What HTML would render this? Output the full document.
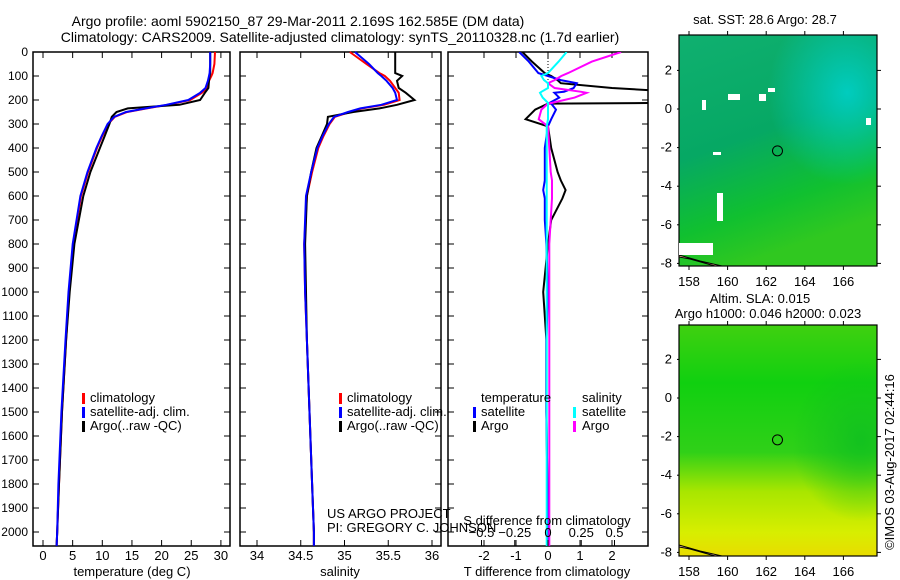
<!DOCTYPE html>
<html><head><meta charset="utf-8"><style>
html,body{margin:0;padding:0;background:#fff;}
svg{display:block;font-family:"Liberation Sans",sans-serif;}
text{font-size:13px;fill:#000;}
text.big{font-size:14px;}
text.dl{font-size:12px;}
</style></head><body>
<svg id="fig" width="900" height="580" viewBox="0 0 900 580" xmlns="http://www.w3.org/2000/svg">
<defs>
<linearGradient id="sstG" x1="0" y1="0" x2="0.3" y2="1">
<stop offset="0" stop-color="#10b070"/><stop offset="0.5" stop-color="#06a864"/><stop offset="0.8" stop-color="#10c030"/><stop offset="1" stop-color="#30c820"/></linearGradient>
<radialGradient id="sstC" cx="0.85" cy="0.25" r="0.4"><stop offset="0" stop-color="#00d0c8" stop-opacity="0.9"/><stop offset="1" stop-color="#00d0c8" stop-opacity="0"/></radialGradient>
<linearGradient id="slaG" x1="0" y1="0" x2="0" y2="1">
<stop offset="0" stop-color="#40d010"/><stop offset="0.25" stop-color="#10d010"/><stop offset="0.55" stop-color="#30d018"/><stop offset="0.72" stop-color="#a8e600"/><stop offset="0.9" stop-color="#d8ee00"/><stop offset="1" stop-color="#e8dc00"/></linearGradient>
<radialGradient id="slaR" cx="0.92" cy="0.5" r="0.35"><stop offset="0" stop-color="#10c020" stop-opacity="0.9"/><stop offset="1" stop-color="#10c020" stop-opacity="0"/></radialGradient>
<clipPath id="c3"><rect x="448" y="52" width="200" height="494"/></clipPath>
</defs>
<g id="g"></g>
</svg>
<script>
// depth levels (m)
const depths=[0,50,88,100,120,150,170,200,220,235,250,270,300,350,400,500,600,800,1000,1200,1500,1800,2000,2058];
const tClim=[29.0,28.9,28.6,28.4,28.0,27.7,26.8,24.8,21.0,17.5,14.2,12.1,11.0,10.0,9.1,7.6,6.4,5.1,4.4,3.9,3.2,2.7,2.4,2.3];
const tSat=[28.2,28.2,28.1,28.0,27.8,27.4,26.5,24.5,20.8,17.3,14.0,12.0,10.9,9.9,9.0,7.5,6.3,5.0,4.3,3.8,3.1,2.6,2.4,2.3];
const tArgo=[28.2,28.2,28.2,28.1,28.0,27.9,27.3,26.5,23.0,14.3,12.4,11.6,11.2,10.4,9.6,8.0,6.8,5.3,4.5,3.9,3.2,2.7,2.4,2.3];
const sClim=[35.06,35.25,35.40,35.46,35.52,35.58,35.62,35.63,35.45,35.2,35.06,34.89,34.83,34.76,34.70,34.63,34.57,34.54,34.55,34.57,34.60,34.63,34.65,34.65];
const sSat=[35.12,35.28,35.38,35.42,35.48,35.55,35.58,35.6,35.42,35.18,35.04,34.88,34.82,34.75,34.69,34.62,34.56,34.54,34.55,34.57,34.60,34.63,34.65,34.65];
const sArgo=[35.58,35.58,35.58,35.66,35.6,35.62,35.7,35.8,35.6,35.4,35.1,34.81,34.80,34.74,34.68,34.62,34.57,34.55,34.56,34.57,34.60,34.63,34.65,34.65];
// difference levels
const dDepths=[0,40,88,100,117,130,150,166,170,190,212,215,240,280,310,400,500,535,575,610,700,800,1000,1200,1500,2000,2058];
const dtSat=[-0.9,-0.6,-0.3,0.0,0.4,0.9,0.8,0.5,0.2,0.35,0.05,0.1,0.25,0.1,0.0,-0.1,-0.1,-0.1,-0.15,-0.1,-0.1,-0.05,0.0,-0.05,-0.05,0.0,0.0];
const dtArgo=[-0.8,-0.5,-0.1,0.1,0.3,0.4,2.0,4.0,4.0,4.0,4.0,0.0,-0.4,-0.7,0.0,0.1,0.3,0.4,0.55,0.45,0.1,0.0,-0.15,-0.05,-0.05,0.0,0.0];
const dsSat=[0.14,0.08,0.0,-0.05,-0.03,0.0,0.0,-0.05,-0.06,-0.04,0.0,0.0,0.0,0.0,-0.01,-0.01,-0.01,-0.01,-0.01,-0.01,-0.01,-0.01,-0.01,-0.01,-0.01,-0.01,-0.01];
const dsArgo=[0.55,0.33,0.15,0.1,0.05,0.0,0.05,0.25,0.29,0.2,0.03,0.0,-0.05,-0.07,0.0,0.01,0.02,0.03,0.03,0.03,0.02,0.01,0.01,0.01,0.01,0.01,0.01];
const depthTicks=[0,100,200,300,400,500,600,700,800,900,1000,1100,1200,1300,1400,1500,1600,1700,1800,1900,2000];
const tTicks=[0,5,10,15,20,25,30];
const sTicks=[34,34.5,35,35.5,36];
const dtTicks=[-2,-1,0,1,2];
const dsTicks=[-0.5,-0.25,0,0.25,0.5];
const lonTicks=[158,160,162,164,166];
const latTicks=[2,0,-2,-4,-6,-8];

const NS="http://www.w3.org/2000/svg";
const G=document.getElementById('g');
function mk(tag,attrs,parent){const e=document.createElementNS(NS,tag);for(const k in attrs)e.setAttribute(k,attrs[k]);(parent||G).appendChild(e);return e;}
function txt(x,y,s,anchor,parent){const t=mk('text',{x:x,y:y,'text-anchor':anchor||'start'},parent);t.textContent=s;return t;}
const yD=d=>52+0.24*d;
const xT=t=>43+5.93*t;
const xS=s=>257+87.5*(s-34);
const xDT=t=>548+32*t;
const xDS=s=>548+133*s;

function frame(x0,x1,name){const r=mk('rect',{x:x0,y:52,width:x1-x0,height:494,fill:'none',stroke:'#000','stroke-width':1.5});


depthTicks.forEach(d=>{mk('line',{x1:x0,x2:x0+6,y1:yD(d),y2:yD(d),stroke:'#000'});mk('line',{x1:x1-6,x2:x1,y1:yD(d),y2:yD(d),stroke:'#000'});});}
function line(xs,ds,xf,color,name,w,clip){const pts=xs.map((v,i)=>xf(v).toFixed(1)+','+yD(ds[i]).toFixed(1)).join(' ');
const p=mk('polyline',{points:pts,fill:'none',stroke:color,'stroke-width':w||2});
if(clip)p.setAttribute('clip-path','url(#c3)');

}

// titles
let t=txt(298,26,'Argo profile: aoml 5902150_87 29-Mar-2011 2.169S 162.585E (DM data)','middle');
t.setAttribute('class','big');


t=txt(340,42,'Climatology: CARS2009. Satellite-adjusted climatology: synTS_20110328.nc (1.7d earlier)','middle');
t.setAttribute('class','big');



// panel 1
frame(33,230,'temperature-panel');
depthTicks.forEach(d=>{const e=txt(28,yD(d)+4,String(d),'end');e.setAttribute('class','dl');});
tTicks.forEach(v=>{mk('line',{x1:xT(v),x2:xT(v),y1:52,y2:58,stroke:'#000'});mk('line',{x1:xT(v),x2:xT(v),y1:540,y2:546,stroke:'#000'});const e=txt(xT(v),560,String(v),'middle');});
line(tClim,depths,xT,'#ff0000','temperature-climatology-line');
line(tArgo,depths,xT,'#000','temperature-argo-line');
line(tSat,depths,xT,'#0000ff','temperature-satellite-line');
t=txt(132,576,'temperature (deg C)','middle');

// panel 2
frame(240,441,'salinity-panel');
sTicks.forEach(v=>{mk('line',{x1:xS(v),x2:xS(v),y1:52,y2:58,stroke:'#000'});mk('line',{x1:xS(v),x2:xS(v),y1:540,y2:546,stroke:'#000'});const e=txt(xS(v),560,String(v),'middle');});
line(sClim,depths,xS,'#ff0000','salinity-climatology-line');
line(sArgo,depths,xS,'#000','salinity-argo-line');
line(sSat,depths,xS,'#0000ff','salinity-satellite-line');
t=txt(340,576,'salinity','middle');

// legends panels 1,2
[[80,'legend-temperature'],[337,'legend-salinity']].forEach(([x,n])=>{
 const g=mk('g',{});
 [['#ff0000','climatology'],['#0000ff','satellite-adj. clim.'],['#000','Argo(..raw -QC)']].forEach((it,i)=>{
  mk('rect',{x:x+2,y:393+i*14,width:3,height:11,fill:it[0]},g);txt(x+10,402+i*14,it[1],'start',g);});});
t=txt(327,518,'US ARGO PROJECT');
t=txt(327,532,'PI: GREGORY C. JOHNSON');

// panel 3
frame(448,648,'difference-panel');
dtTicks.forEach(v=>{mk('line',{x1:xDT(v),x2:xDT(v),y1:52,y2:58,stroke:'#000'});mk('line',{x1:xDT(v),x2:xDT(v),y1:540,y2:546,stroke:'#000'});const e=txt(xDT(v),560,String(v),'middle');});
mk('line',{x1:548,x2:548,y1:52,y2:80,stroke:'#000','stroke-dasharray':'1,2'});
line(dtArgo,dDepths,xDT,'#000','t-diff-argo-line',2,true);
line(dtSat,dDepths,xDT,'#0000ff','t-diff-satellite-line',2,true);
line(dsArgo,dDepths,xDS,'#ff00ff','s-diff-argo-line',2,true);
line(dsSat,dDepths,xDS,'#00ffff','s-diff-satellite-line',2,true);
dsTicks.forEach(v=>{mk('line',{x1:xDS(v),x2:xDS(v),y1:540,y2:546,stroke:'#000'});const e=txt(xDS(v),537,String(v).replace('-','\u2212'),'middle');});
t=txt(547,525,'S difference from climatology','middle');
t=txt(547,576,'T difference from climatology','middle');
{const g=mk('g',{});
txt(481,402,'temperature','start',g);txt(582,402,'salinity','start',g);
[['#0000ff','satellite',473,481],['#000','Argo',473,481],['#00ffff','satellite',573,582],['#ff00ff','Argo',573,582]].forEach((it,i)=>{
 const row=i%2;mk('rect',{x:it[2],y:407+row*14,width:3,height:11,fill:it[0]},g);txt(it[3],416+row*14,it[1],'start',g);});}

// maps
const xLon=l=>689+19.3*(l-158);
function map(top,zeroY,fillA,fillB,name){
 const g=mk('g',{});
 mk('rect',{x:679,y:top,width:198,height:231,fill:fillA},g);
 mk('rect',{x:679,y:top,width:198,height:231,fill:fillB},g);
 lonTicks.forEach(l=>{mk('line',{x1:xLon(l),x2:xLon(l),y1:top-4,y2:top,stroke:'#000'},g);mk('line',{x1:xLon(l),x2:xLon(l),y1:top+231,y2:top+235,stroke:'#000'},g);txt(xLon(l),top+251,String(l),'middle',g);});
 latTicks.forEach(a=>{const y=zeroY-19.3*a;mk('line',{x1:677,x2:679,y1:y,y2:y,stroke:'#000'},g);mk('line',{x1:877,x2:881,y1:y,y2:y,stroke:'#000'},g);txt(672,y+4,String(a),'end',g);});
 mk('path',{d:`M679 ${top+220} L700 ${top+226} L722 ${top+231} L715 ${top+231} L690 ${top+224} L679 ${top+222}Z`,fill:'#f4c090',stroke:'#000'},g);
 mk('rect',{x:679,y:top,width:198,height:231,fill:'none',stroke:'#000','stroke-width':1.2},g);
 const c=mk('circle',{cx:xLon(162.585),cy:zeroY+19.3*2.169,r:5,fill:'none',stroke:'#000'},g);
 
 
 return g;}
const m1=map(35,109,'url(#sstG)','url(#sstC)','sst-map');
[[702,100,4,10],[728,94,12,6],[759,94,7,7],[768,88,7,4],[713,152,8,3],[717,193,6,28],[866,118,5,7],[679,243,34,12]].forEach(r=>mk('rect',{x:r[0],y:r[1],width:r[2],height:r[3],fill:'#fff'},m1));
t=txt(765,24,'sat. SST: 28.6 Argo: 28.7','middle');
map(325,398,'url(#slaG)','url(#slaR)','sla-map');
t=txt(760,303,'Altim. SLA: 0.015','middle');
t=txt(768,318,'Argo h1000: 0.046 h2000: 0.023','middle');
t=txt(0,0,'©IMOS 03-Aug-2017 02:44:16','middle');t.setAttribute('transform','translate(894,462) rotate(-90)');

</script>
</body></html>
